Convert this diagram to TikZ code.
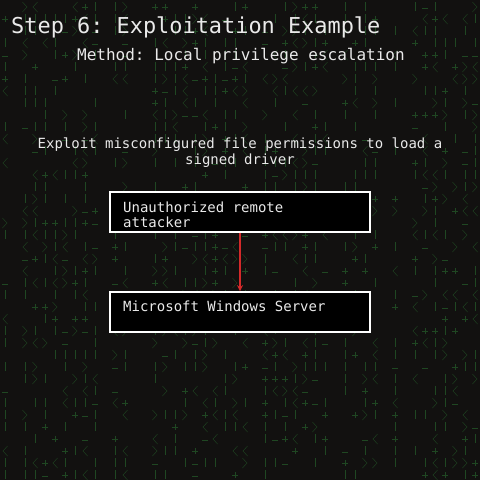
\documentclass[tikz,border=0pt]{standalone}
\usepackage{fontspec}
\setmainfont{DejaVu Sans Mono}
\usetikzlibrary{arrows.meta}
\definecolor{bgdark}{HTML}{121110}
\definecolor{txt}{HTML}{EAEAEA}
\definecolor{matrixgreen}{HTML}{2F8A38}
\definecolor{arrowred}{HTML}{D42A2A}
\tikzset{
  box/.style={draw=white, line width=1.6pt, fill=black, minimum width=260pt, minimum height=40pt, inner sep=0pt},
  boxtext/.style={text=txt, font=\fontsize{14}{15}\selectfont, anchor=base west, inner sep=0pt, align=left},
  plain/.style={text=txt, inner sep=0pt},
  rain/.style={draw=matrixgreen, line width=0.4pt, opacity=0.45},
  link/.style={draw=arrowred, line width=1.4pt, -{Stealth[length=6pt,width=6pt]}}
}
\frenchspacing
\begin{document}
\frenchspacing
\begin{tikzpicture}[x=1pt,y=-1pt]
\fill[bgdark] (0,0) rectangle (480,480);
\useasboundingbox (0,0) rectangle (480,480);
% faint matrix rain
\pgfmathsetseed{11}
\foreach \i in {0,...,47}{
  \pgfmathsetmacro{\colon}{rnd}
  \ifdim\colon pt>0.25pt
  \foreach \j in {0,...,39}{
    \pgfmathsetmacro{\r}{rnd}
    \pgfmathsetmacro{\xx}{5+10*\i}
    \pgfmathsetmacro{\yy}{2+12*\j}
    \ifdim\r pt<0.25pt
      \draw[rain] (\xx,\yy) -- (\xx,\yy+9);
    \else\ifdim\r pt<0.35pt
      \draw[rain] (\xx+2.5,\yy) -- (\xx-2,\yy+5) -- (\xx+2.5,\yy+10);
    \else\ifdim\r pt<0.45pt
      \draw[rain] (\xx-3,\yy+5) -- (\xx+3,\yy+5) (\xx,\yy+2) -- (\xx,\yy+8);
    \else\ifdim\r pt<0.53pt
      \draw[rain] (\xx-2.5,\yy) -- (\xx+2,\yy+5) -- (\xx-2.5,\yy+10);
    \else\ifdim\r pt<0.58pt
      \draw[rain] (\xx-3,\yy+6) -- (\xx+3,\yy+6);
    \fi\fi\fi\fi\fi
  }
  \fi
}
% titles
\node[plain, anchor=base west, font=\fontsize{21.9}{24}\selectfont] (title) at (11,33) {Step 6: Exploitation Example};
\node[plain, anchor=base west, font=\fontsize{16}{18}\selectfont] (method) at (77,60) {Method: Local privilege escalation};
\node[plain, anchor=base, align=center, font=\fontsize{14}{16}\selectfont] (desc) at (240,164) {Exploit misconfigured file permissions to load a\\signed driver};
% boxes
\node[box] (attacker) at (240,212) {};
\node[box] (server) at (240,312) {};
\node[boxtext] (attackertxt) at (123,227) {Unauthorized remote\\attacker};
\node[boxtext] (servertxt) at (123,311) {Microsoft Windows Server};
\draw[link] (attacker.south) -- (server.north);
\end{tikzpicture}
\end{document}
